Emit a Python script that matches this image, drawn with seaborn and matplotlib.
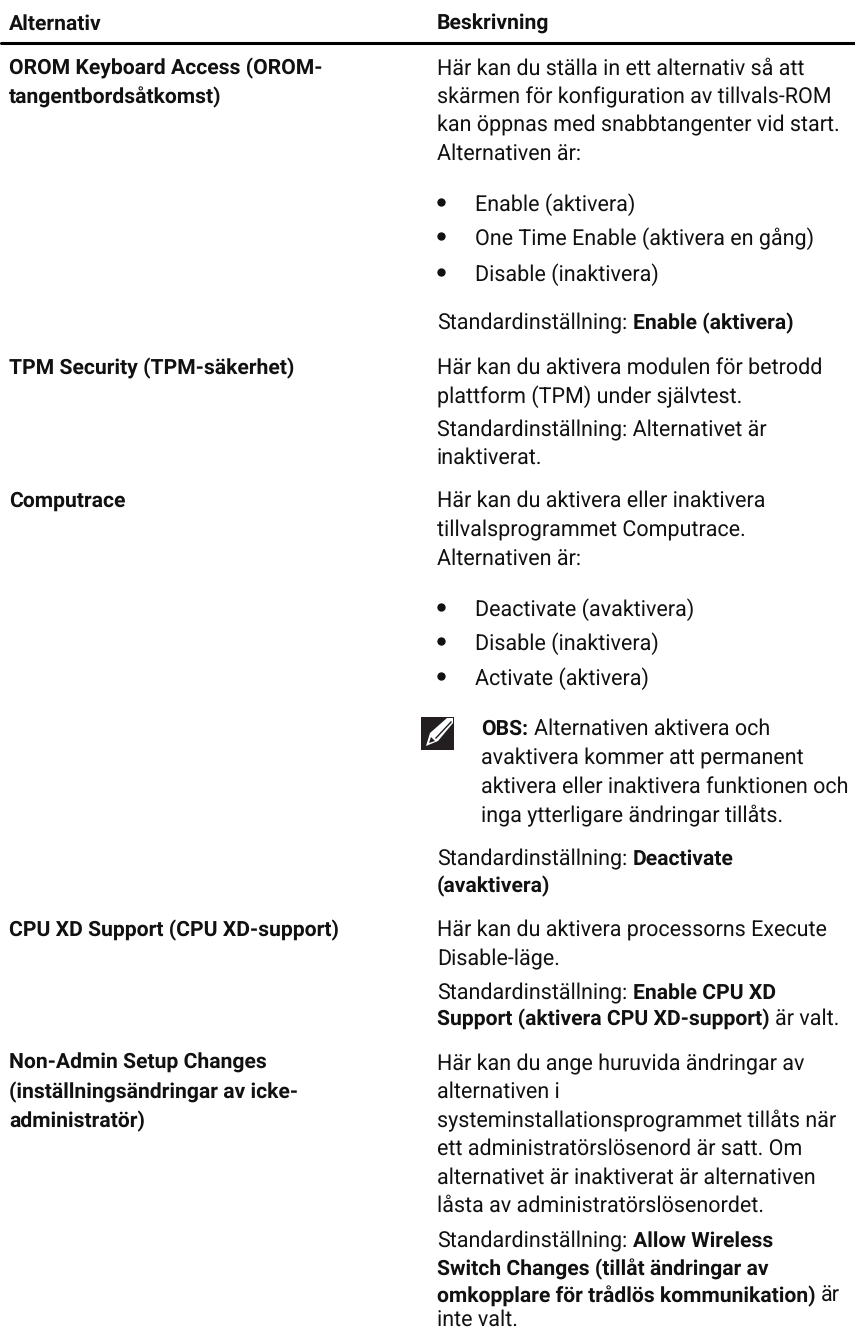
import matplotlib
matplotlib.use('Agg')
import matplotlib.pyplot as plt
import seaborn as sns
from matplotlib.patches import Rectangle, Polygon

sns.set_theme(style='white')
plt.rcParams['font.family'] = ['Roboto', 'Liberation Sans', 'DejaVu Sans']
plt.rcParams['text.hinting'] = 'no_hinting'

# header row
header_left = 'Alternativ'
header_right = 'Beskrivning'

# left column: (baseline, text), all bold
left_rows = [
    (74, 'OROM Keyboard Access (OROM-'),
    (103, 'tangentbordsåtkomst)'),
    (374, 'TPM Security (TPM-säkerhet)'),
    (507, 'Computrace'),
    (936, 'CPU XD Support (CPU XD-support)'),
    (1069, 'Non-Admin Setup Changes'),
    (1098, '(inställningsändringar av icke-'),
    (1127, 'administratör)'),
]

# right column: (baseline, [(text, bold), ...])
right_rows = [
    (75, [('Här kan du ställa in ett alternativ så att', False)]),
    (103, [('skärmen för konfiguration av tillvals-ROM', False)]),
    (131, [('kan öppnas med snabbtangenter vid start.', False)]),
    (160, [('Alternativen är:', False)]),
    (329, [('Standardinställning:', False), ('Enable (aktivera)', True)]),
    (374, [('Här kan du aktivera modulen för betrodd', False)]),
    (403, [('plattform (TPM) under självtest.', False)]),
    (436, [('Standardinställning: Alternativet är', False)]),
    (464, [('inaktiverat.', False)]),
    (507, [('Här kan du aktivera eller inaktivera', False)]),
    (536, [('tillvalsprogrammet Computrace.', False)]),
    (565, [('Alternativen är:', False)]),
    (865, [('Standardinställning:', False), ('Deactivate', True)]),
    (892, [('(avaktivera)', True)]),
    (936, [('Här kan du aktivera processorns Execute', False)]),
    (965, [('Disable-läge.', False)]),
    (999, [('Standardinställning:', False), ('Enable CPU XD', True)]),
    (1025, [('Support (aktivera CPU XD-support)', True), ('är valt.', False)]),
    (1070, [('Här kan du ange huruvida ändringar av', False)]),
    (1098, [('alternativen i', False)]),
    (1127, [('systeminstallationsprogrammet tillåts när', False)]),
    (1155, [('ett administratörslösenord är satt. Om', False)]),
    (1184, [('alternativet är inaktiverat är alternativen', False)]),
    (1212, [('låsta av administratörslösenordet.', False)]),
    (1247, [('Standardinställning:', False), ('Allow Wireless', True)]),
    (1275, [('Switch Changes (tillåt ändringar av', True)]),
    (1302, [('omkopplare för trådlös kommunikation)', True), ('är', False)]),
    (1326, [('inte valt.', False)]),
]

# bullet lists
bullet_rows = [
    (211, 'Enable (aktivera)'),
    (245, 'One Time Enable (aktivera en gång)'),
    (281, 'Disable (inaktivera)'),
    (616, 'Deactivate (avaktivera)'),
    (650, 'Disable (inaktivera)'),
    (685, 'Activate (aktivera)'),
]

# note block next to the pencil icon
note_rows = [
    (735, [('OBS:', True), ('Alternativen aktivera och', False)]),
    (764, [('avaktivera kommer att permanent', False)]),
    (793, [('aktivera eller inaktivera funktionen och', False)]),
    (822, [('inga ytterligare ändringar tillåts.', False)]),
]

FS = 15.5
FS_B = 15.2
GAP = 5.5
W, H = 855, 1328
fig = plt.figure(figsize=(W / 100, H / 100), dpi=100)
ax = fig.add_axes([0, 0, 1, 1])
ax.set_xlim(0, W)
ax.set_ylim(H, 0)
ax.axis('off')
ink = '#111111'


def put_runs(x, y, runs):
    # write each run after the previous one
    r = fig.canvas.get_renderer()
    for txt, bold in runs:
        t = ax.text(x, y, txt, fontsize=FS_B if bold else FS, color=ink, va='baseline', ha='left',
                    fontweight='bold' if bold else 'normal')
        x += t.get_window_extent(r).width + GAP


# header and rule
sns.lineplot(x=[1, W], y=[43, 43], color='black', linewidth=2.2, ax=ax)
put_runs(9, 30, [(header_left, True)])
put_runs(437, 30, [(header_right, True)])

for y, txt in left_rows:
    put_runs(9, y, [(txt, True)])
for y, runs in right_rows:
    put_runs(437, y, runs)
for y, txt in bullet_rows:
    put_runs(475, y, [(txt, False)])
for y, runs in note_rows:
    put_runs(481, y, runs)

# bullets sit nine pixels above the baseline
bullet_y = [y - 9 for y, _ in bullet_rows]
sns.scatterplot(x=[441] * len(bullet_y), y=bullet_y, color=ink, s=36, linewidth=0, ax=ax, legend=False)

# pencil icon
ax.add_patch(Rectangle((421, 717), 33, 33, color='#231f20', lw=0))
ax.add_patch(Polygon([(426, 746), (430, 733), (447, 718), (453, 718), (453, 723), (438, 741)],
                     closed=True, fc='white', ec='none'))
ax.add_patch(Polygon([(435, 738), (451, 721), (452, 722), (436, 739)],
                     closed=True, fc='#231f20', ec='none'))
ax.add_patch(Polygon([(429, 743), (431, 737), (435, 741)],
                     closed=True, fc='#231f20', ec='none'))

ax.set_xlim(0, W)
ax.set_ylim(H, 0)
fig.savefig('out.png', dpi=100)
